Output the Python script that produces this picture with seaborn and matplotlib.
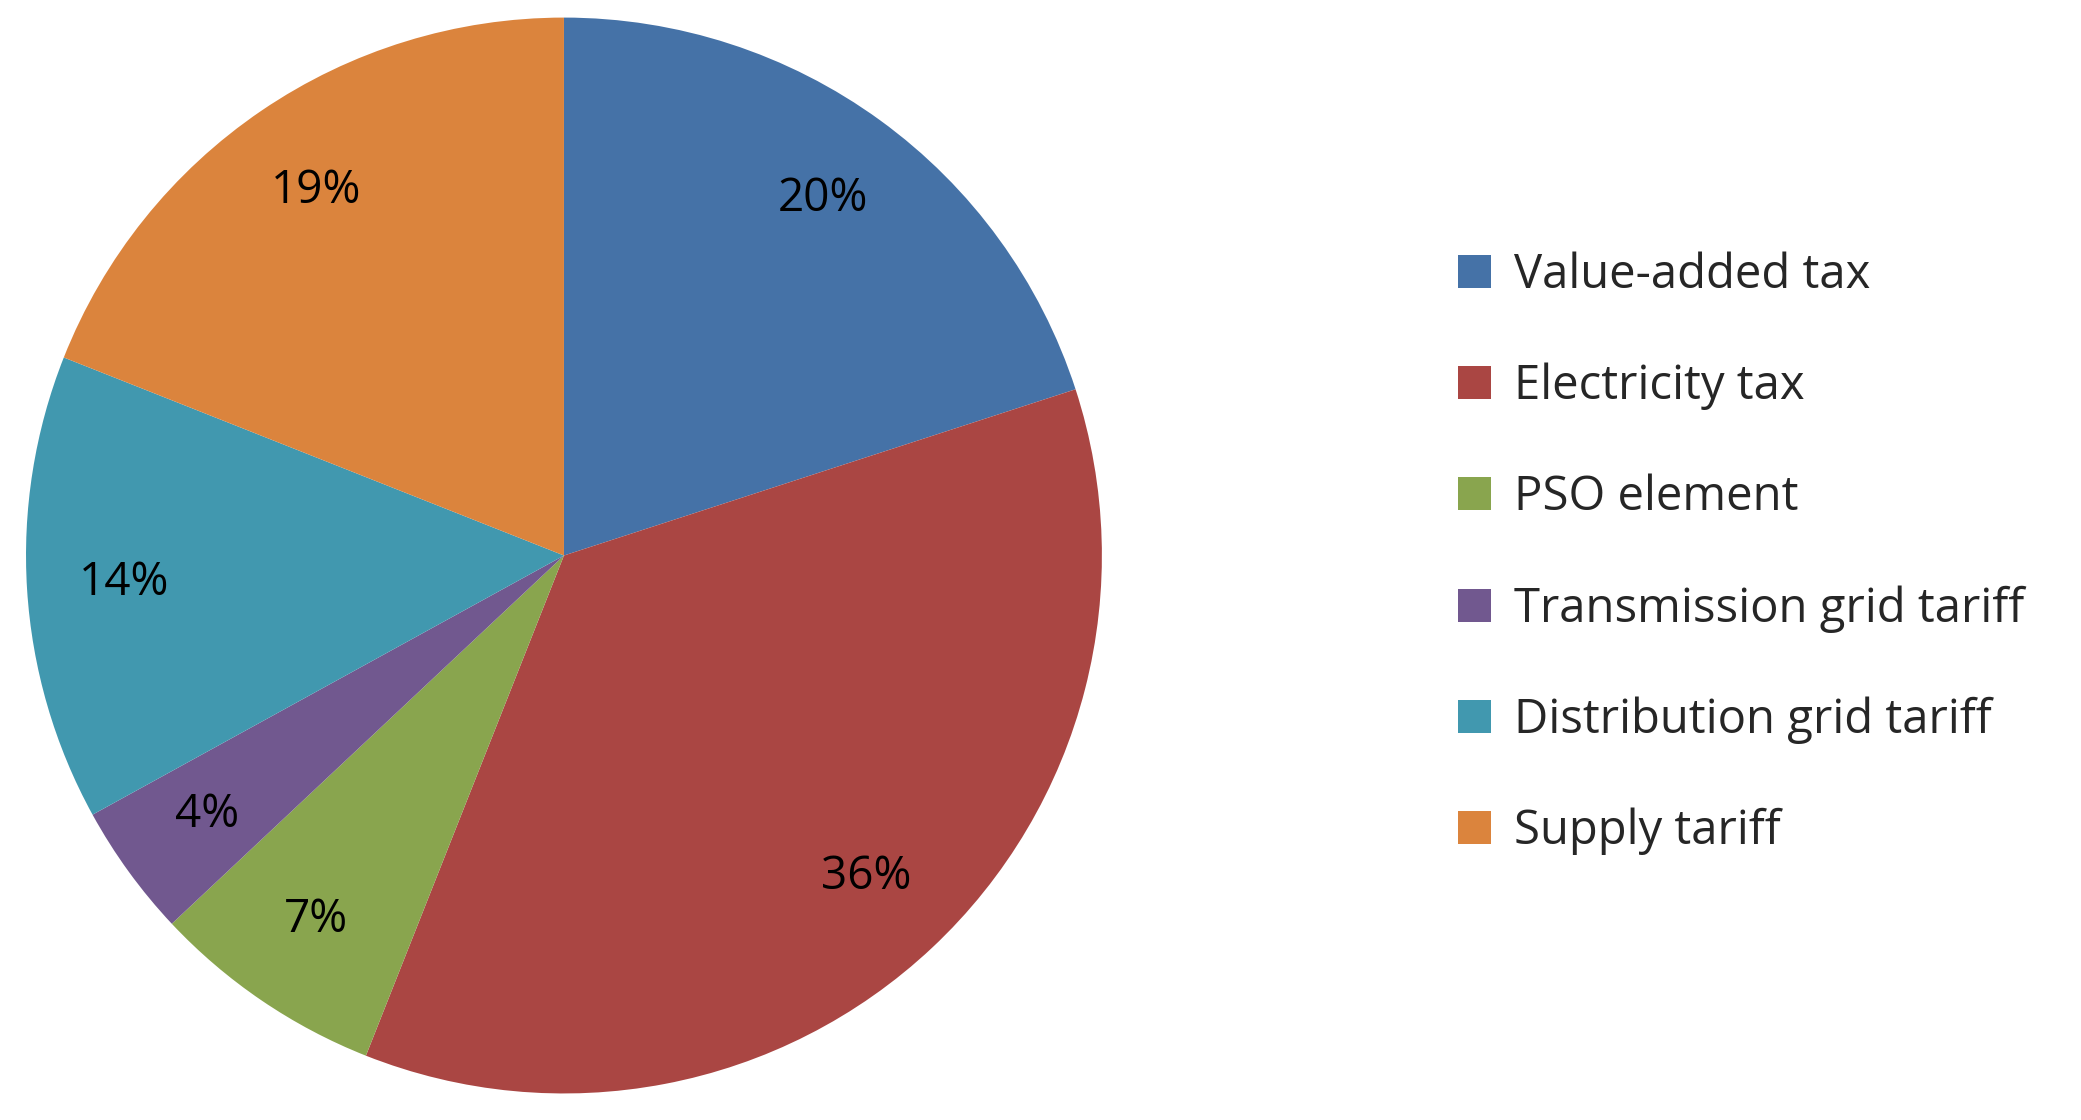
import matplotlib
matplotlib.use("Agg")
import matplotlib.pyplot as plt
import seaborn as sns

sns.set_style("white")
plt.rcParams['font.family'] = ['Open Sans', 'DejaVu Sans']

labels = ["Value-added tax", "Electricity tax", "PSO element",
          "Transmission grid tariff", "Distribution grid tariff", "Supply tariff"]
shares = [20, 36, 7, 4, 14, 19]
colors = ["#4572A7", "#AA4643", "#89A54E", "#71588F", "#4198AF", "#DB843D"]

fig = plt.figure(figsize=(20.81, 11.2), dpi=100)
ax = fig.add_axes([0.0125, 0.0235, 0.517, 0.961])
wedges, texts, autotexts = ax.pie(
    shares, colors=colors, startangle=90, counterclock=False,
    autopct="%d%%", pctdistance=0.82,
    textprops={"fontsize": 33, "color": "black"},
    wedgeprops={"linewidth": 0})
ax.set_aspect("equal")
ax.set_xlim(-1.0, 1.0)
ax.set_ylim(-1.0, 1.0)

fig.legend(wedges, labels, loc="center left", bbox_to_anchor=(0.68, 0.506),
           frameon=False, fontsize=34, handlelength=0.7, handleheight=0.7,
           handletextpad=0.5, labelspacing=1.35)

fig.savefig("out.png", dpi=100)
